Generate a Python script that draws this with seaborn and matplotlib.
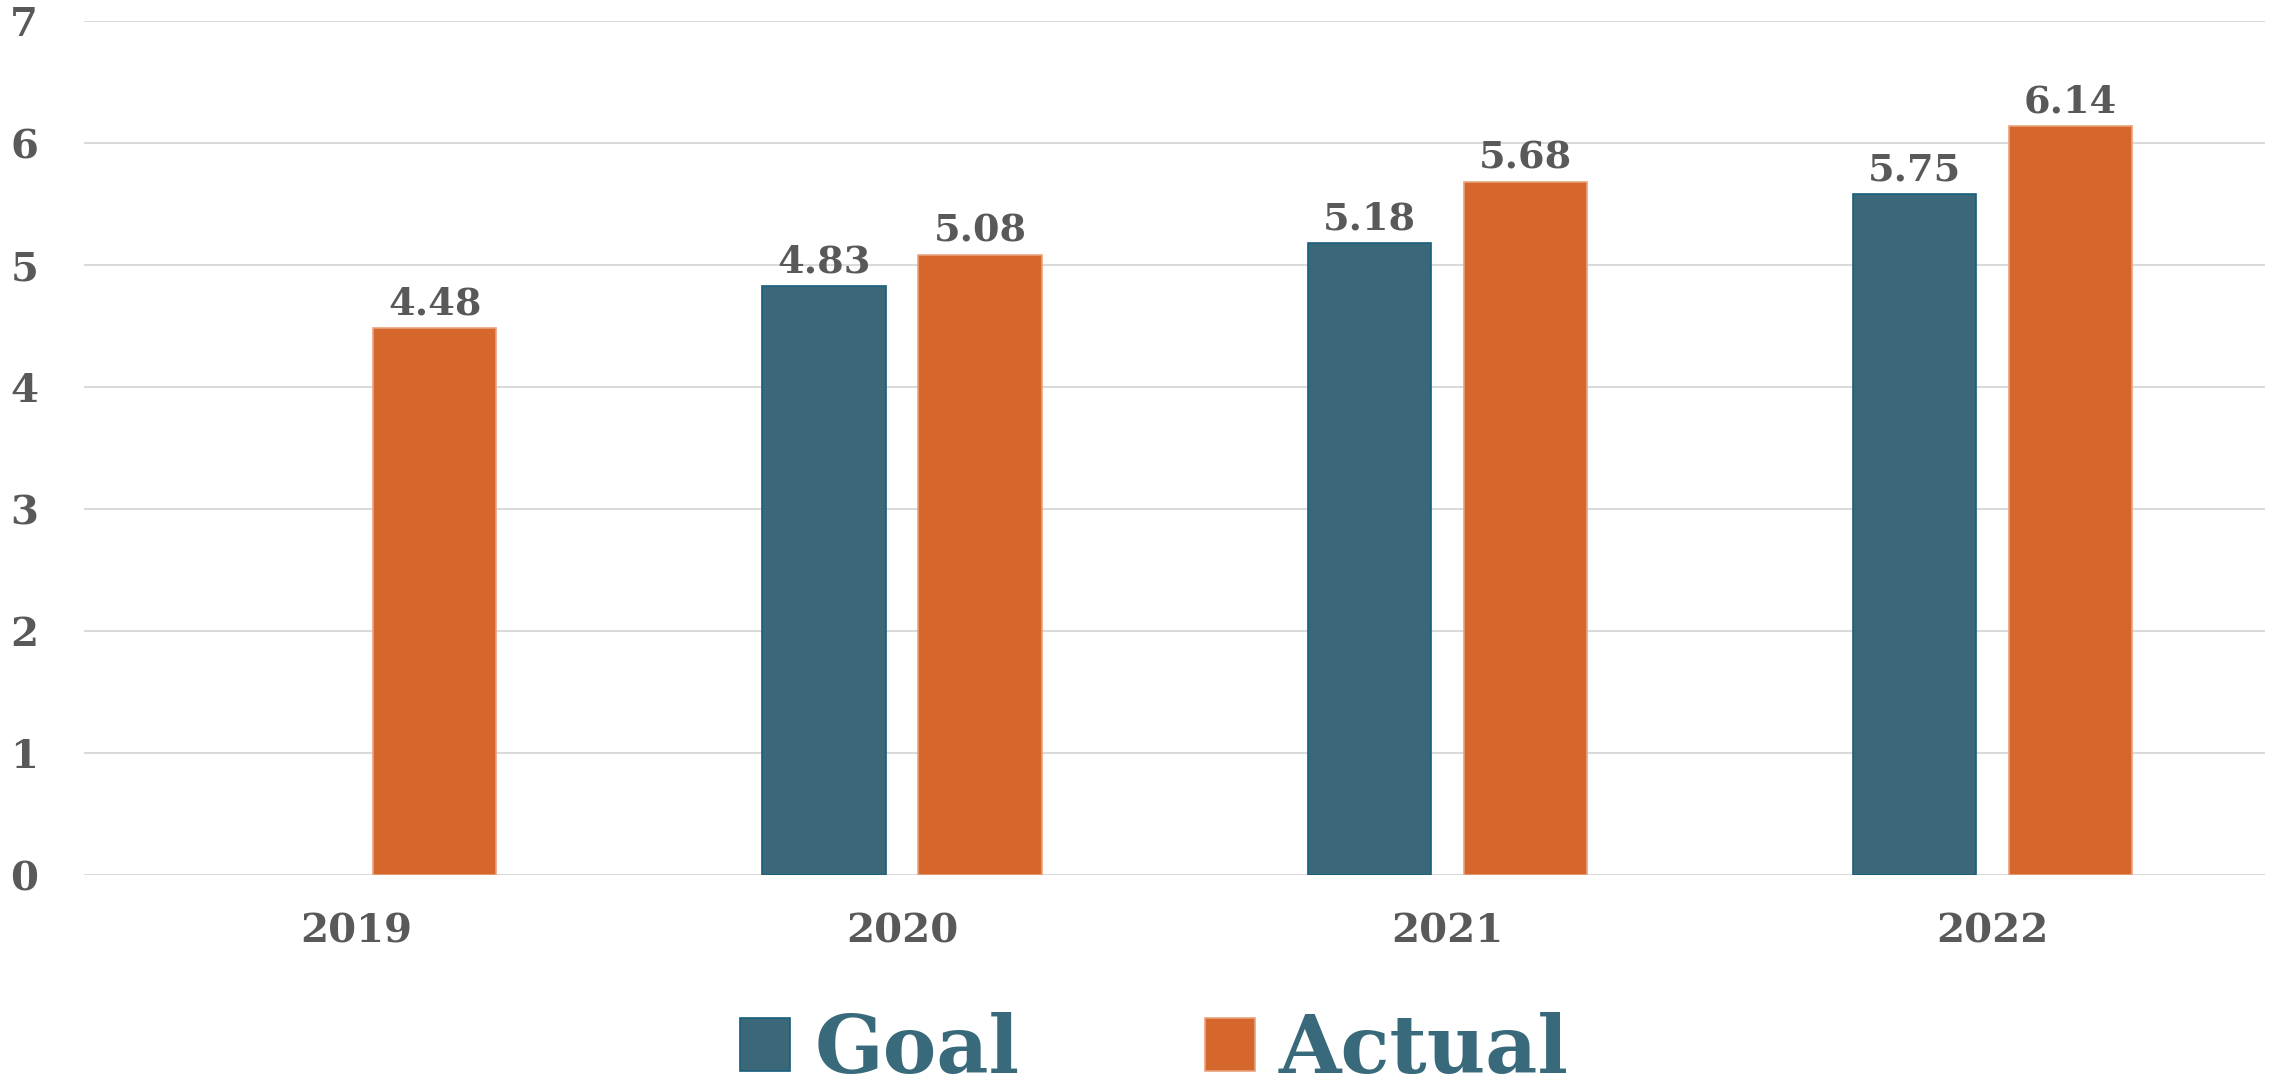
import numpy as np
import pandas as pd
import matplotlib
matplotlib.use('Agg')
import matplotlib.pyplot as plt
import seaborn as sns
from matplotlib.patches import Patch

# datos
years = ['2019', '2020', '2021', '2022']
goal = [np.nan, 4.83, 5.18, 5.58]
actual = [4.48, 5.08, 5.68, 6.14]
goal_labels = ['', '4.83', '5.18', '5.75']
actual_labels = ['4.48', '5.08', '5.68', '6.14']
series = ['Goal', 'Actual']

colores = {'Goal': '#3A6879', 'Actual': '#D5672D'}
bordes = {'Goal': '#16607C', 'Actual': '#E9A27C'}
gris = '#595959'

sns.set_style('white')
plt.rcParams['font.family'] = ['DejaVu Serif']
plt.rcParams['font.weight'] = 'bold'

df = pd.DataFrame({
    'Year': years * 2,
    'Value': goal + actual,
    'Series': ['Goal'] * len(years) + ['Actual'] * len(years),
})

fig = plt.figure(figsize=(22.77, 10.89), dpi=100)
ax = fig.add_axes([0.0369, 0.1965, 0.958, 0.7842])

sns.barplot(data=df, x='Year', y='Value', hue='Series', hue_order=series,
            order=years, palette=colores, width=0.572, gap=0.21,
            ax=ax, legend=False, errorbar=None, saturation=1)

etiquetas = {'Goal': goal_labels, 'Actual': actual_labels}
for cont, s in zip(ax.containers, series):
    textos = []
    for bar in cont:
        bar.set_edgecolor(bordes[s])
        bar.set_linewidth(1.2)
        i = int(round(bar.get_x() + bar.get_width() / 2))
        textos.append(etiquetas[s][i])
    ax.bar_label(cont, labels=textos, padding=4, fontsize=27.5,
                 color=gris, fontweight='bold')

ax.set_ylim(0, 7)
ax.set_yticks(range(0, 8))
ax.yaxis.grid(True, color='#D9D9D9', linewidth=1.4)
ax.set_axisbelow(True)
for sp in ax.spines.values():
    sp.set_visible(False)
ax.set_xlabel('')
ax.set_ylabel('')
ax.tick_params(axis='y', length=0, pad=33, labelsize=29, labelcolor=gris)
ax.tick_params(axis='x', length=0, pad=27, labelsize=29, labelcolor=gris)
for t in ax.get_xticklabels() + ax.get_yticklabels():
    t.set_fontweight('bold')

handles = [Patch(facecolor=colores[s], edgecolor=bordes[s], linewidth=1.2) for s in series]
fig.legend(handles, series, loc='center', bbox_to_anchor=(0.507, 0.035), ncol=2,
           frameon=False, prop=dict(family='DejaVu Serif', weight='bold', size=58),
           handlelength=0.62, handleheight=0.62, handletextpad=0.3,
           columnspacing=2.3, labelcolor='#386A7C')

fig.savefig('out.png', dpi=100)
